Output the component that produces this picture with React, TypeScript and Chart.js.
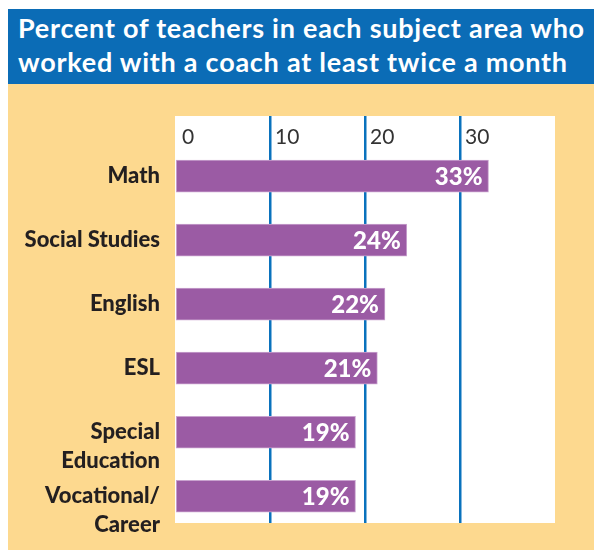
import React, { useEffect, useRef } from "react";
import { Chart, registerables } from "chart.js";

Chart.register(...registerables);

const titleLines = [
  "Percent of teachers in each subject area who",
  "worked with a coach at least twice a month",
];
const categories: string[][] = [
  ["Math"],
  ["Social Studies"],
  ["English"],
  ["ESL"],
  ["Special", "Education"],
  ["Vocational/", "Career"],
];
const percentValues = [33, 24.4, 22.1, 21.3, 19, 19];
const xTickLabels = [0, 10, 20, 30];
const gridValues = [10, 20, 30];

const BLUE = "#0b6cb6";
const YELLOW = "#fdd98f";
const PURPLE = "#9b5ba4";
const GRID_BLUE = "#0a72bd";
const DARK = "#231f20";

const textPlugin = {
  id: "customText",
  beforeDraw(chart: any) {
    const { ctx, chartArea } = chart;
    ctx.save();
    ctx.fillStyle = "#ffffff";
    ctx.fillRect(chartArea.left, chartArea.top, chartArea.right - chartArea.left, chartArea.bottom - chartArea.top);
    ctx.restore();
  },
  afterDraw(chart: any) {
    const { ctx, chartArea } = chart;
    const xs = chart.scales.x;
    const ys = chart.scales.y;
    ctx.save();
    // top tick labels
    ctx.font = "21px Lato";
    ctx.fillStyle = "#333333";
    ctx.textAlign = "left";
    ctx.textBaseline = "middle";
    xTickLabels.forEach((v) => {
      const px = xs.getPixelForValue(v);
      ctx.fillText(String(v), px + (v === 0 ? 7 : 5), chartArea.top + 21);
    });
    // category labels
    ctx.font = "900 22px Lato";
    ctx.fillStyle = DARK;
    ctx.textAlign = "right";
    categories.forEach((lines, i) => {
      const py = ys.getPixelForValue(i);
      lines.forEach((line, j) => {
        ctx.fillText(line, chartArea.left - 15, py + j * 29);
      });
    });
    // value labels
    const meta = chart.getDatasetMeta(0);
    ctx.font = "900 24px Lato";
    ctx.fillStyle = "#ffffff";
    ctx.textAlign = "right";
    meta.data.forEach((bar: any, i: number) => {
      ctx.fillText(Math.round(percentValues[i]) + "%", bar.x - 6, bar.y + 1);
    });
    ctx.restore();
  },
};

export default function App() {
  const canvasRef = useRef<HTMLCanvasElement | null>(null);

  useEffect(() => {
    if (!canvasRef.current) return;
    const chart = new Chart(canvasRef.current, {
      type: "bar",
      data: {
        datasets: [
          {
            data: percentValues.map((v, i) => ({ x: v, y: i })),
            backgroundColor: PURPLE,
            borderColor: "#c9a3cf",
            borderWidth: 1,
            borderSkipped: false,
            barThickness: 32,
          },
        ],
      },
      options: {
        indexAxis: "y",
        animation: false,
        responsive: false,
        maintainAspectRatio: false,
        events: [],
        layout: { padding: { left: 167, right: 39, top: 32, bottom: 27 } },
        plugins: { legend: { display: false }, tooltip: { enabled: false } },
        scales: {
          x: {
            type: "linear",
            position: "top",
            min: 0,
            max: 40,
            offset: false,
            ticks: { display: false, stepSize: 10 },
            border: { display: false },
            grid: {
              offset: false,
              drawTicks: false,
              lineWidth: 2.5,
              color: (c: any) => (c.tick && gridValues.includes(c.tick.value) ? GRID_BLUE : "rgba(0,0,0,0)"),
            },
          },
          y: {
            type: "linear",
            display: false,
            reverse: true,
            offset: false,
            grid: { offset: false },
            min: -0.9375,
            max: 5.417,
          },
        },
      },
      plugins: [textPlugin],
    } as any);
    return () => chart.destroy();
  }, []);

  return (
    <div style={{ position: "absolute", left: 8, top: 9, width: 586, height: 541, background: YELLOW }}>
      <div
        style={{
          background: BLUE,
          color: "#ffffff",
          height: 75,
          boxSizing: "border-box",
          paddingTop: 2,
          paddingLeft: 10,
          fontFamily: "Lato",
          fontWeight: 700,
          fontSize: 27,
          letterSpacing: "0.75px",
          lineHeight: "34px",
          whiteSpace: "nowrap",
          overflow: "hidden",
        }}
      >
        {titleLines.map((t, i) => (
          <div key={i}>{t}</div>
        ))}
      </div>
      <canvas ref={canvasRef} width={586} height={466} style={{ display: "block" }} />
    </div>
  );
}
